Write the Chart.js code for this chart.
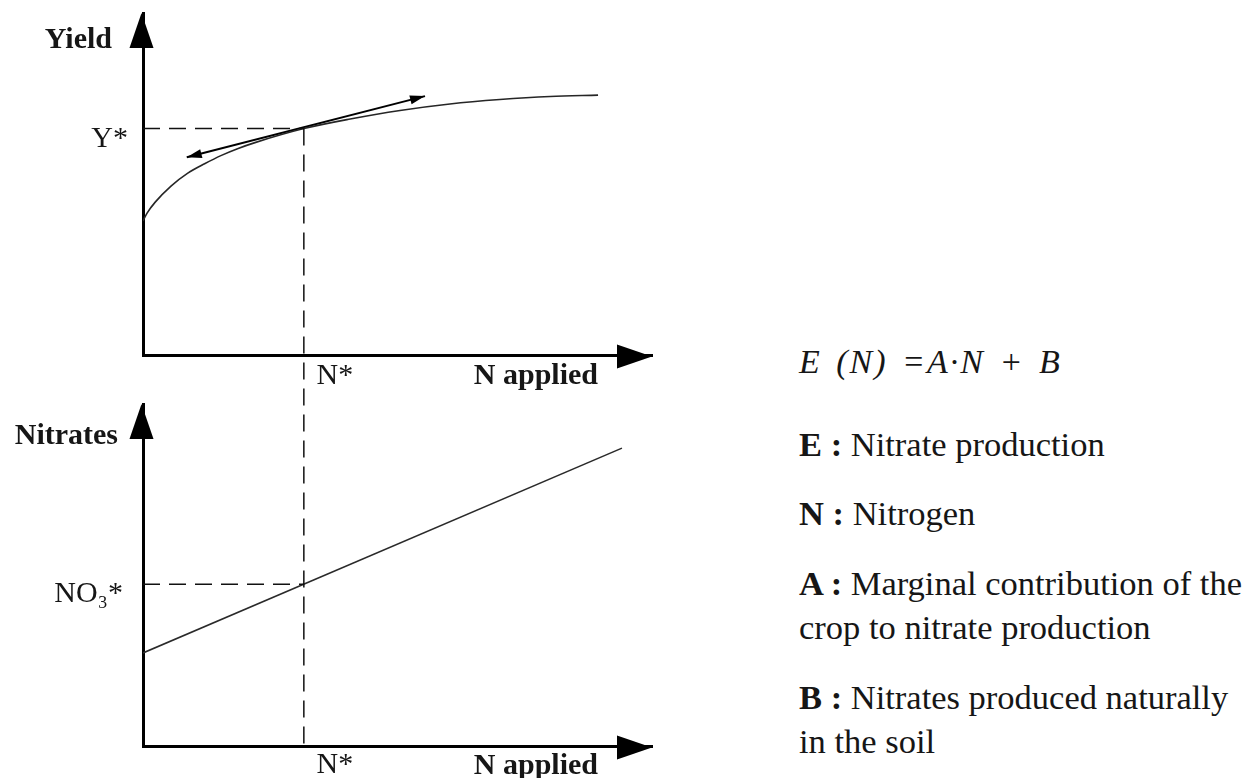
<!DOCTYPE html>
<html>
<head>
<meta charset="utf-8">
<script src="https://cdn.jsdelivr.net/npm/chart.js@4.4.0/dist/chart.umd.min.js"></script>
<style>
  body { margin: 0; background: #fff; width: 1245px; height: 778px; overflow: hidden; position: relative; font-family: "Liberation Serif", serif; color: #161616; }
  canvas { position: absolute; left: 0; }
  #topChart { top: 0; }
  #bottomChart { top: 390px; }
  .note { position: absolute; left: 799px; font-size: 34.5px; line-height: 34px; white-space: nowrap; }
  .eq { font-style: italic; font-size: 34px; letter-spacing: 2px; word-spacing: 4px; }
</style>
</head>
<body>
<canvas id="topChart" width="660" height="390"></canvas>
<canvas id="bottomChart" width="660" height="388"></canvas>

<div class="note eq" style="top:345px;">E (N) =A·N + B</div>
<div class="note" style="top:427px;"><b>E :</b> Nitrate production</div>
<div class="note" style="top:496px;"><b>N :</b> Nitrogen</div>
<div class="note" style="top:566px;"><b>A :</b> Marginal contribution of the</div>
<div class="note" style="top:610px;">crop to nitrate production</div>
<div class="note" style="top:680px;"><b>B :</b> Nitrates produced naturally</div>
<div class="note" style="top:724px;">in the soil</div>

<script>
// N applied (0-100 along the axis)
var nApplied = [0, 0.8, 2.4, 5.5, 8.8, 12.2, 15.3, 18.7, 22.0, 31.6, 40.7, 50.5, 60.3, 70.1, 80.0, 89.4];
var yieldValues = [39.2, 41.5, 44.7, 49.4, 53.2, 56.0, 58.3, 60.4, 62.1, 66.2, 69.0, 71.5, 73.4, 74.7, 75.6, 76.0];

// tangent at N*
var tangentN = [8.6, 55.4];
var tangentYield = [57.8, 75.7];

// nitrates line E(N) = A*N + B
var nitrateN = [0, 94.1];
var nitrateValues = [27.2, 87.1];

var N_STAR = 31.6;
var Y_STAR = 66.2;
var NO3_STAR = 47.3;

var xTickLabel = 'N*';
var yTickTop = 'Y*';
var yTickBottom = 'NO\u2083*';

Chart.defaults.font.family = 'Liberation Serif';
Chart.defaults.color = '#161616';

function toPoints(xs, ys) {
    return xs.map(function (x, i) { return { x: x, y: ys[i] }; });
}

var dashCarry = 0;

function arrowHead(ctx, tipX, tipY, fromX, fromY, len, half) {
    var ang = Math.atan2(tipY - fromY, tipX - fromX);
    ctx.save();
    ctx.translate(tipX, tipY);
    ctx.rotate(ang);
    ctx.beginPath();
    ctx.moveTo(0, 0);
    ctx.lineTo(-len, -half);
    ctx.lineTo(-len, half);
    ctx.closePath();
    ctx.fill();
    ctx.restore();
}

function panelPlugin(p) {
    return {
        id: 'panel',
        afterDraw: function (chart) {
            var ctx = chart.ctx;
            var a = chart.chartArea;
            var px = chart.scales.x.getPixelForValue(N_STAR);
            var py = chart.scales.y.getPixelForValue(p.level);

            ctx.save();
            // guide lines
            ctx.strokeStyle = '#111';
            ctx.lineWidth = 1.5;
            ctx.setLineDash([17, 9]);
            ctx.beginPath();
            ctx.moveTo(a.left, py);
            ctx.lineTo(px, py);
            ctx.stroke();

            ctx.beginPath();
            if (p.top) {
                ctx.moveTo(px, py);
                ctx.lineTo(px, chart.height);
                dashCarry = (chart.height - py) % 26;
            } else {
                ctx.lineDashOffset = dashCarry;
                ctx.moveTo(px, 0);
                ctx.lineTo(px, a.bottom);
            }
            ctx.stroke();
            ctx.setLineDash([]);

            // axis arrows
            ctx.fillStyle = '#000';
            var ax = a.left - 1.5, ay = a.bottom + 1.5;
            arrowHead(ctx, ax, a.top, ax, a.bottom, 35, 12);
            arrowHead(ctx, a.right, ay, a.left, ay, 35, 12);

            // tangent arrows
            if (p.top) {
                var m = chart.getDatasetMeta(1).data;
                arrowHead(ctx, m[0].x, m[0].y, m[1].x, m[1].y, 15, 4.5);
                arrowHead(ctx, m[1].x, m[1].y, m[0].x, m[0].y, 15, 4.5);
            }

            // axis titles
            ctx.fillStyle = '#161616';
            ctx.font = 'bold 30px "Liberation Serif"';
            ctx.textAlign = 'right';
            ctx.textBaseline = 'alphabetic';
            ctx.fillText(p.yTitle, a.left - p.yTitleGap, a.top + p.yTitleDrop);
            ctx.fillText('N applied', a.right - 54, a.bottom + p.xTitleDrop);
            ctx.restore();
        }
    };
}

function panelOptions(p) {
    return {
        responsive: false,
        animation: false,
        events: [],
        layout: { padding: { top: p.padTop, right: 8, left: 0, bottom: 0 } },
        plugins: { legend: { display: false }, tooltip: { enabled: false } },
        scales: {
            x: {
                type: 'linear',
                min: 0,
                max: 100,
                grid: { display: false, drawTicks: false },
                border: { display: true, color: '#000', width: 3 },
                afterBuildTicks: function (s) { s.ticks = [{ value: N_STAR }]; },
                afterFit: function (s) {
                    s.height = p.xHeight;
                    s.paddingLeft = 0;
                    s.paddingRight = 0;
                },
                ticks: {
                    callback: function () { return xTickLabel; },
                    labelOffset: 31,
                    padding: p.xPad,
                    maxRotation: 0,
                    autoSkip: false,
                    font: { size: 30 }
                }
            },
            y: {
                type: 'linear',
                min: 0,
                max: 100,
                grid: { display: false, drawTicks: false },
                border: { display: true, color: '#000', width: 3 },
                afterBuildTicks: function (s) { s.ticks = [{ value: p.level }]; },
                afterFit: function (s) {
                    s.width = 143;
                    s.paddingTop = 0;
                    s.paddingBottom = 0;
                },
                ticks: {
                    callback: function () { return p.yTick; },
                    labelOffset: p.yOffset,
                    padding: p.yPad,
                    autoSkip: false,
                    font: { size: 30 }
                }
            }
        }
    };
}

var topPanel = { top: true, level: Y_STAR, padTop: 13, xHeight: 35, xPad: 3, yTick: yTickTop, yOffset: 11, yPad: 15,
    yTitle: 'Yield', yTitleGap: 31, yTitleDrop: 35, xTitleDrop: 29 };
var bottomPanel = { top: false, level: NO3_STAR, padTop: 14, xHeight: 32, xPad: 1, yTick: yTickBottom, yOffset: 10, yPad: 20,
    yTitle: 'Nitrates', yTitleGap: 25, yTitleDrop: 40, xTitleDrop: 28 };

new Chart(document.getElementById('topChart'), {
    type: 'line',
    data: {
        datasets: [{
            data: toPoints(nApplied, yieldValues),
            borderColor: '#262626',
            borderWidth: 1.6,
            pointRadius: 0,
            cubicInterpolationMode: 'monotone'
        }, {
            data: toPoints(tangentN, tangentYield),
            borderColor: '#000',
            borderWidth: 2,
            pointRadius: 0
        }]
    },
    options: panelOptions(topPanel),
    plugins: [panelPlugin(topPanel)]
});

new Chart(document.getElementById('bottomChart'), {
    type: 'line',
    data: {
        datasets: [{
            data: toPoints(nitrateN, nitrateValues),
            borderColor: '#2a2a2a',
            borderWidth: 1.6,
            pointRadius: 0
        }]
    },
    options: panelOptions(bottomPanel),
    plugins: [panelPlugin(bottomPanel)]
});
</script>
</body>
</html>
